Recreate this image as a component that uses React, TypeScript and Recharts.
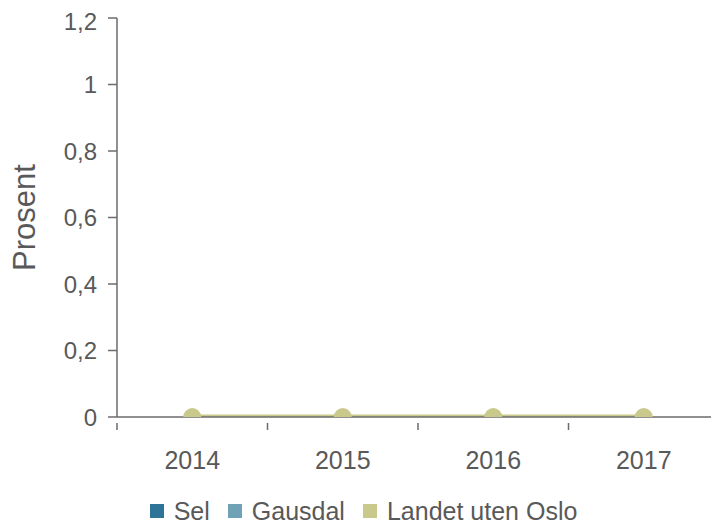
import {
  ComposedChart,
  Bar,
  Line,
  XAxis,
  YAxis,
  Legend,
} from 'recharts';

const years = ['2014', '2015', '2016', '2017'];
const sel = [0, 0, 0, 0];
const gausdal = [0, 0, 0, 0];
const landetUtenOslo = [0, 0, 0, 0];
const yTicks = [0, 0.2, 0.4, 0.6, 0.8, 1, 1.2];
const legendOrder = ['Sel', 'Gausdal', 'Landet uten Oslo'];

const data = years.map((year, i) => ({
  year,
  sel: sel[i],
  gausdal: gausdal[i],
  landet: landetUtenOslo[i],
}));

const TEXT = '#595959';
const AXIS = '#6b6b6b';
const FONT = '"Liberation Sans", Arial, sans-serif';

const fmt = (v: number) => String(v).replace('.', ',');

// category ticks sit on band boundaries, labels in the middle
function YearTick(props: any) {
  const { x, y, payload } = props;
  const half = payload.offset ?? 0;
  return (
    <g>
      <line x1={x - half} x2={x - half} y1={y - 30} y2={y - 23} stroke={AXIS} strokeWidth={1.5} />
      <text x={x} y={y} dy={16} textAnchor="middle" fill={TEXT} fontSize={25} fontFamily={FONT}>
        {payload.value}
      </text>
    </g>
  );
}

function LegendRow(props: any) {
  const items = [...(props.payload ?? [])].sort(
    (a: any, b: any) => legendOrder.indexOf(a.value) - legendOrder.indexOf(b.value),
  );
  return (
    <div style={{ display: 'flex', justifyContent: 'center', alignItems: 'center', gap: 18 }}>
      {items.map((it: any) => (
        <div key={it.value} style={{ display: 'flex', alignItems: 'center' }}>
          <span style={{ width: 14, height: 14, background: it.color, display: 'inline-block' }} />
          <span style={{ marginLeft: 10, color: TEXT, fontSize: 25, fontFamily: FONT, lineHeight: '28px' }}>
            {it.value}
          </span>
        </div>
      ))}
    </div>
  );
}

export default function App() {
  return (
    <div style={{ fontFamily: FONT }}>
      <ComposedChart
        width={711}
        height={517}
        data={data}
        margin={{ top: 10, right: 0, left: 0, bottom: 0 }}
      >
        <XAxis
          dataKey="year"
          tick={<YearTick />}
          tickLine={false}
          tickMargin={30}
          height={80}
          axisLine={{ stroke: AXIS, strokeWidth: 1.5 }}
        />
        <YAxis
          domain={[0, 1.2]}
          ticks={yTicks}
          allowDataOverflow
          width={109}
          tickFormatter={fmt}
          tick={{ fontSize: 24, fill: TEXT, fontFamily: FONT }}
          tickSize={9}
          tickMargin={11}
          axisLine={{ stroke: AXIS, strokeWidth: 1.5 }}
          tickLine={{ stroke: AXIS, strokeWidth: 1.5 }}
          label={{
            value: 'Prosent',
            angle: -90,
            position: 'insideLeft',
            offset: 16,
            style: { textAnchor: 'middle', fontSize: 31, fill: TEXT, fontFamily: FONT },
          }}
        />
        <Legend content={<LegendRow />} wrapperStyle={{ height: 28 }} />
        <Bar dataKey="sel" name="Sel" fill="#2e7498" isAnimationActive={false} />
        <Bar dataKey="gausdal" name="Gausdal" fill="#6fa2b5" isAnimationActive={false} />
        <Line
          dataKey="landet"
          name="Landet uten Oslo"
          stroke="#c8c98a"
          strokeWidth={5}
          dot={{ r: 9, fill: '#c8c98a', stroke: '#c8c98a', strokeWidth: 0 }}
          activeDot={false}
          legendType="square"
          isAnimationActive={false}
        />
      </ComposedChart>
    </div>
  );
}
